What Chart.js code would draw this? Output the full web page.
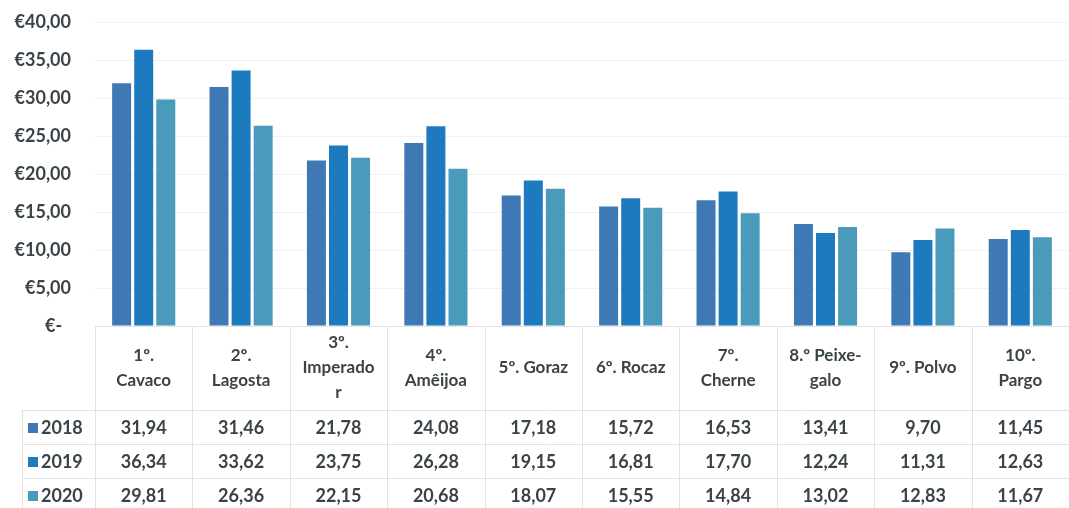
<!DOCTYPE html>
<html>
<head>
<meta charset="utf-8">
<script src="https://cdn.jsdelivr.net/npm/chart.js@4/dist/chart.umd.min.js"></script>
<style>
  html, body { margin: 0; padding: 0; background: #ffffff; }
  #wrap { width: 1069px; height: 508px; position: relative; }
</style>
</head>
<body>
<div id="wrap"><canvas id="c"></canvas></div>
<script>
// Categories (multi-line header labels of the data table)
const categories = [
  ["1º.", "Cavaco"],
  ["2º.", "Lagosta"],
  ["3º.", "Imperado", "r"],
  ["4º.", "Amêijoa"],
  ["5º. Goraz"],
  ["6º. Rocaz"],
  ["7º.", "Cherne"],
  ["8.º Peixe-", "galo"],
  ["9º. Polvo"],
  ["10º.", "Pargo"]
];
const seriesNames = ["2018", "2019", "2020"];
const values2018 = [31.94, 31.46, 21.78, 24.08, 17.18, 15.72, 16.53, 13.41, 9.70, 11.45];
const values2019 = [36.34, 33.62, 23.75, 26.28, 19.15, 16.81, 17.70, 12.24, 11.31, 12.63];
const values2020 = [29.81, 26.36, 22.15, 20.68, 18.07, 15.55, 14.84, 13.02, 12.83, 11.67];
const yTicks = [0, 5, 10, 15, 20, 25, 30, 35, 40];

const colors = ["#3E79B5", "#1D7ABF", "#4A9BBB"];
const textColor = "#3a4348";
const lineColor = "#e2e2e2";
const FONT = "Lato, 'Open Sans', sans-serif";

function euro(v) {
  if (v === 0) return "€-  ";
  return "€" + v.toFixed(2).replace(".", ",");
}
function num(v) { return v.toFixed(2).replace(".", ","); }

// Draws the data table (category header, legend keys and values) under the plot
const dataTable = {
  id: "dataTable",
  afterDraw(chart) {
    const ctx = chart.ctx;
    const x = chart.scales.x;
    const area = chart.chartArea;
    const n = categories.length;
    const colW = (area.right - area.left) / n;
    const top = area.bottom;
    const headerH = 84;
    const rowH = 34;
    const leftEdge = 22;
    const bottom = chart.height;

    ctx.save();
    ctx.strokeStyle = lineColor;
    ctx.lineWidth = 1;
    // vertical column dividers
    for (let i = 0; i <= n; i++) {
      const px = Math.round(area.left + i * colW) + 0.5;
      ctx.beginPath();
      ctx.moveTo(px, top);
      ctx.lineTo(px, bottom);
      ctx.stroke();
    }
    // left edge of legend column
    ctx.beginPath();
    ctx.moveTo(leftEdge + 0.5, top + headerH);
    ctx.lineTo(leftEdge + 0.5, bottom);
    ctx.stroke();
    // horizontal row lines
    for (let r = 0; r < seriesNames.length; r++) {
      const py = Math.round(top + headerH + r * rowH) + 0.5;
      ctx.beginPath();
      ctx.moveTo(leftEdge, py);
      ctx.lineTo(area.right, py);
      ctx.stroke();
    }

    // header labels
    ctx.fillStyle = textColor;
    ctx.font = "700 17px " + FONT;
    ctx.textAlign = "center";
    ctx.textBaseline = "middle";
    const lineH = 25;
    categories.forEach((lab, i) => {
      const cx = x.getPixelForValue(i);
      const cy = top + headerH / 2;
      const start = cy - (lab.length - 1) * lineH / 2;
      lab.forEach((t, k) => ctx.fillText(t, cx, start + k * lineH));
    });

    // rows
    const series = [values2018, values2019, values2020];
    ctx.font = "700 18px " + FONT;
    series.forEach((vals, r) => {
      const cy = top + headerH + r * rowH + rowH / 2 + 1;
      // legend key + name
      ctx.fillStyle = colors[r];
      ctx.fillRect(28, Math.round(cy - 5), 10, 10);
      ctx.fillStyle = textColor;
      ctx.textAlign = "left";
      ctx.fillText(seriesNames[r], 41, cy);
      ctx.textAlign = "center";
      vals.forEach((v, i) => ctx.fillText(num(v), x.getPixelForValue(i), cy));
    });
    ctx.restore();
  }
};

new Chart(document.getElementById("c"), {
  type: "bar",
  data: {
    labels: categories,
    datasets: [
      { label: seriesNames[0], data: values2018, backgroundColor: colors[0] },
      { label: seriesNames[1], data: values2019, backgroundColor: colors[1] },
      { label: seriesNames[2], data: values2020, backgroundColor: colors[2] }
    ]
  },
  options: {
    responsive: true,
    maintainAspectRatio: false,
    animation: false,
    categoryPercentage: 0.68,
    barPercentage: 0.86,
    layout: { padding: { top: 22, right: 0, bottom: 182, left: 0 } },
    plugins: { legend: { display: false }, tooltip: { enabled: false } },
    scales: {
      x: {
        ticks: { display: false },
        grid: { display: false, drawTicks: false },
        border: { display: true, color: lineColor },
        afterFit(s) { s.height = 0; }
      },
      y: {
        min: 0,
        max: 40,
        afterBuildTicks(s) { s.ticks = yTicks.map(v => ({ value: v })); },
        afterFit(s) {
          s.width = 95;
          // label spacing is horizontal only; keep the plot top/bottom fixed by layout padding
          s.paddingTop = 0;
          s.paddingBottom = 0;
        },
        ticks: {
          padding: 24,
          color: textColor,
          font: { family: FONT, size: 18, weight: "700" },
          callback: v => euro(v)
        },
        grid: { color: "#f1f1f1", drawTicks: false },
        border: { display: false }
      }
    }
  },
  plugins: [dataTable]
});
</script>
</body>
</html>
